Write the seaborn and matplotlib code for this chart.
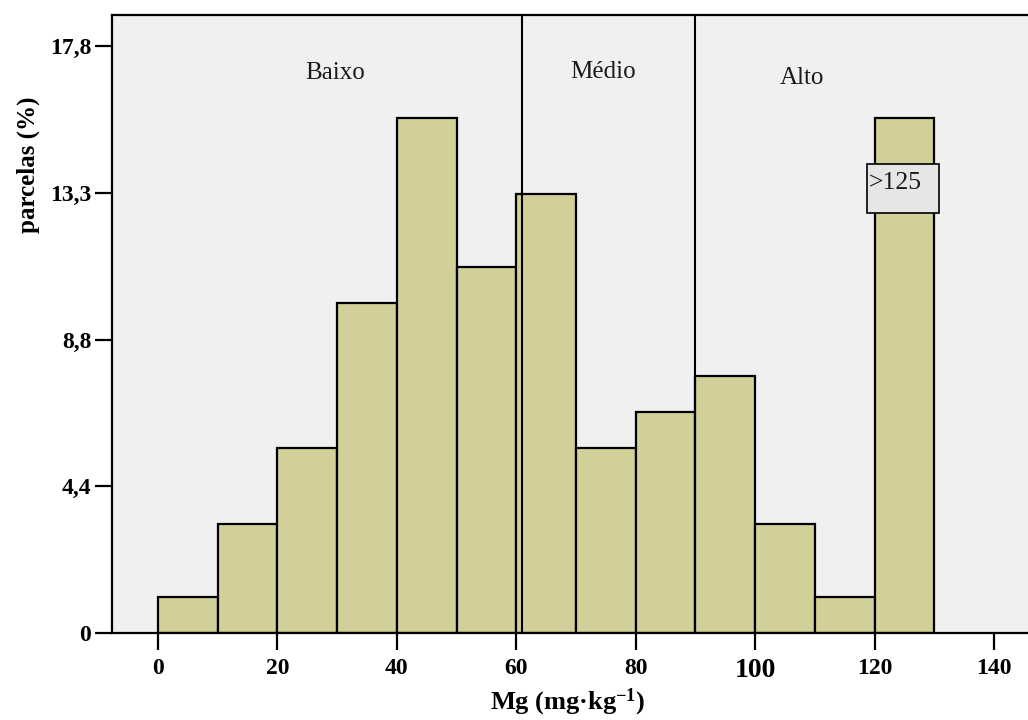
import numpy as np
import pandas as pd
import matplotlib
matplotlib.use("Agg")
import matplotlib.pyplot as plt
from matplotlib.patches import Rectangle
import seaborn as sns

# classes de Mg (limite inferior, largura 10) e % de parcelas
mg_lower = [0, 10, 20, 30, 40, 50, 60, 70, 80, 90, 100, 110, 120]
parcelas_pct = [1.1, 3.3, 5.6, 10.0, 15.6, 11.1, 13.3, 5.6, 6.7, 7.8, 3.3, 1.1, 15.6]
bin_width = 10

# limites de interpretacao
limites = [61, 90]
classes = ["Baixo", "Médio", "Alto"]
classes_x = [29.6, 74.5, 107.9]
classes_y = [16.95, 17.0, 16.8]

y_ticks = [0, 4.44, 8.89, 13.33, 17.78]
y_ticklabels = ["0", "4,4", "8,8", "13,3", "17,8"]
x_ticks = [0, 20, 40, 60, 80, 100, 120, 140]

sns.set_theme(style="ticks")
plt.rcParams["font.family"] = ["Liberation Serif", "DejaVu Serif"]
plt.rcParams["mathtext.default"] = "regular"
for k in ["text.color", "axes.labelcolor", "xtick.color", "ytick.color"]:
    plt.rcParams[k] = "black"

df = pd.DataFrame({"mg": np.array(mg_lower) + bin_width / 2, "pct": parcelas_pct})
edges = list(mg_lower) + [mg_lower[-1] + bin_width]

fig = plt.figure(figsize=(10.28, 7.2), dpi=100)
ax = fig.add_axes([112 / 1028, 1 - 633 / 720, 1 - 112 / 1028, (633 - 15) / 720])
ax.set_facecolor("#f0f0f0")

sns.histplot(data=df, x="mg", weights="pct", bins=edges, ax=ax,
             color="#d3cf98", alpha=1, edgecolor="black", linewidth=1.6)

for lim in limites:
    ax.axvline(lim, color="black", lw=1.5, zorder=3)

for txt, xx, yy in zip(classes, classes_x, classes_y):
    ax.text(xx, yy, txt, ha="center", va="center", fontsize=18, color="#1a1a1a")

# caixa do rotulo ">125"
ax.add_patch(Rectangle((118.8, 12.72), 12.0, 1.48, facecolor="#e6e6e6",
                       edgecolor="black", linewidth=1.2, zorder=4))
ax.text(119.0, 13.62, ">125", ha="left", va="center", fontsize=18.5, zorder=5,
        color="#1a1a1a")

ax.set_xlim(-7.7, 145.7)
ax.set_ylim(0, 18.72)
ax.set_xticks(x_ticks)
ax.set_xticklabels([str(t) for t in x_ticks])
ax.set_yticks(y_ticks)
ax.set_yticklabels(y_ticklabels)

for lab in ax.get_xticklabels() + ax.get_yticklabels():
    lab.set_fontweight("bold")
    lab.set_fontsize(17)
for lab in ax.get_xticklabels():
    if lab.get_text() == "100":
        lab.set_fontsize(20)

ax.tick_params(axis="both", length=12, width=1.6, color="black", direction="out")
ax.tick_params(axis="x", pad=6)
ax.tick_params(axis="y", pad=3)

for side in ["left", "bottom", "top"]:
    ax.spines[side].set_visible(True)
    ax.spines[side].set_linewidth(1.6)
    ax.spines[side].set_color("black")
ax.spines["right"].set_visible(False)

ax.set_xlabel("")
ax.set_ylabel("")
fig.text(568 / 1028, 1 - 702 / 720, r"Mg (mg·kg$^{-1}$)", ha="center", va="center",
         fontsize=19, fontweight="bold")
fig.text(28 / 1028, 1 - 165 / 720, "parcelas (%)", ha="center", va="center",
         rotation=90, fontsize=18, fontweight="bold")

fig.savefig("out.png", dpi=100)
